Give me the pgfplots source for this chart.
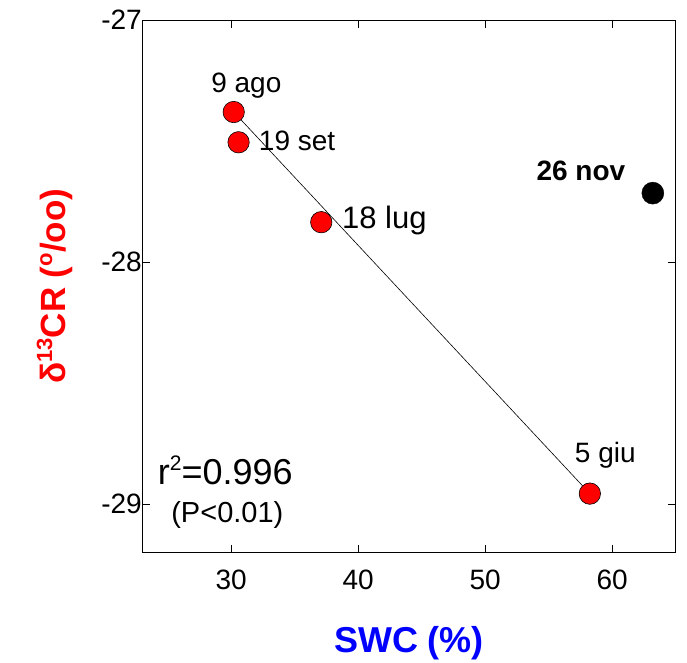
\documentclass[border=0pt]{standalone}
\usepackage{fontspec}
\setmainfont{Liberation Sans}
\usepackage{pgfplots}
\pgfplotsset{compat=1.18}
\usetikzlibrary{calc}
\begin{document}
\begin{tikzpicture}
\begin{axis}[
  scale only axis, width=533.4pt, height=532.7pt,
  xmin=23, xmax=65, ymin=-29.2, ymax=-27,
  xtick={30,40,50,60}, ytick={-29,-28,-27},
  tick align=inside, major tick length=8pt,
  xtick pos=both, ytick pos=both,
  axis line style={line width=0.9pt},
  tick style={black, line width=0.8pt},
  /pgf/number format/assume math mode=true,
  ticklabel style={font=\fontsize{28}{32}\selectfont},
  xticklabel style={yshift=-14pt},
  yticklabel style={xshift=3pt},
  xlabel={SWC (\%)},
  xlabel style={at={(axis description cs:0.5,0)}, anchor=north, inner sep=0pt, yshift=-74pt,
    font=\fontsize{36}{40}\selectfont\bfseries, text=blue},
  ylabel={δ\raisebox{13pt}{\fontsize{22}{22}\selectfont 13}CR (\raisebox{13pt}{\fontsize{22}{22}\selectfont o}/oo)},
  ylabel style={at={(axis description cs:0,0.5)}, anchor=center, inner sep=0pt, yshift=87.7pt,
    font=\fontsize{35}{40}\selectfont\bfseries, text=red},
  clip=false,
]
\addplot[black, line width=0.6pt] coordinates {(30.2,-27.38) (58.24,-28.956)};
\addplot[only marks, mark=*, mark size=10.7pt, mark options={fill=red, draw=black, line width=0.6pt}]
  coordinates {(30.2,-27.38) (30.58,-27.505) (37.09,-27.835) (58.24,-28.956)};
\addplot[only marks, mark=*, mark size=11pt, mark options={fill=black, draw=black}]
  coordinates {(63.2,-27.715)};
\node[anchor=base west, inner sep=0pt, font=\fontsize{28}{32}\selectfont] at (axis cs:28.42,-27.298) {9 ago};
\node[anchor=base west, inner sep=0pt, font=\fontsize{28}{32}\selectfont] at (axis cs:32.17,-27.539) {19 set};
\node[anchor=base west, inner sep=0pt, font=\fontsize{31}{34}\selectfont] at (axis cs:38.72,-27.86) {18 lug};
\node[anchor=base west, inner sep=0pt, font=\fontsize{28}{32}\selectfont] at (axis cs:57.05,-28.827) {5 giu};
\node[anchor=base west, inner sep=0pt, font=\fontsize{28}{32}\selectfont\bfseries] at (axis cs:54.03,-27.663) {26 nov};
\node[anchor=base west, inner sep=0pt, font=\fontsize{36}{40}\selectfont] at (axis cs:24.22,-28.919) {r\raisebox{14pt}{\fontsize{21}{21}\selectfont 2}=0.996};
\node[anchor=base west, inner sep=0pt, font=\fontsize{29}{32}\selectfont] at (axis cs:25.27,-29.077) {(P<0.01)};
\end{axis}
\pgfresetboundingbox
\useasboundingbox ($(current axis.south west)+(-142.3pt,-109.3pt)$) rectangle ($(current axis.north east)+(11.3pt,20pt)$);
\end{tikzpicture}
\end{document}
